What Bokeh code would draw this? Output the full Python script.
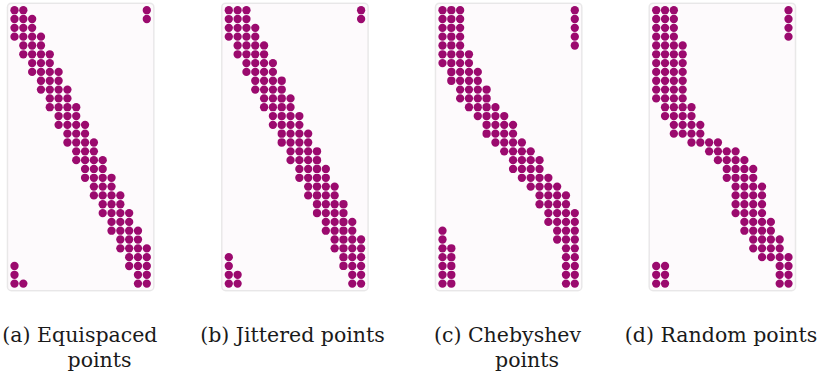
from bokeh.plotting import figure
from bokeh.models import Range1d, BoxAnnotation
from bokeh.embed import file_html
from bokeh.resources import INLINE
from bokeh.core.properties import value

# ---- data: nonzero columns of each row of the 32 x 16 sparsity patterns ----
N_ROWS = 32
N_COLS = 16

EQUISPACED = [
    [0, 1, 15], [0, 1, 2, 15], [0, 1, 2], [0, 1, 2, 3],
    [1, 2, 3], [1, 2, 3, 4], [2, 3, 4], [2, 3, 4, 5],
    [3, 4, 5], [3, 4, 5, 6], [4, 5, 6], [4, 5, 6, 7],
    [5, 6, 7], [5, 6, 7, 8], [6, 7, 8], [6, 7, 8, 9],
    [7, 8, 9], [7, 8, 9, 10], [8, 9, 10], [8, 9, 10, 11],
    [9, 10, 11], [9, 10, 11, 12], [10, 11, 12], [10, 11, 12, 13],
    [11, 12, 13], [11, 12, 13, 14], [12, 13, 14], [12, 13, 14, 15],
    [13, 14, 15], [0, 13, 14, 15], [0, 14, 15], [0, 1, 14, 15],
]

JITTERED = [
    [0, 1, 2, 15], [0, 1, 2, 15], [0, 1, 2, 3], [0, 1, 2, 3],
    [1, 2, 3, 4], [1, 2, 3, 4], [2, 3, 4, 5], [2, 3, 4, 5],
    [3, 4, 5, 6], [3, 4, 5, 6], [4, 5, 6, 7], [4, 5, 6, 7],
    [5, 6, 7, 8], [5, 6, 7, 8], [6, 7, 8, 9], [6, 7, 8, 9],
    [7, 8, 9, 10], [7, 8, 9, 10], [8, 9, 10, 11], [8, 9, 10, 11],
    [9, 10, 11, 12], [9, 10, 11, 12], [10, 11, 12, 13], [10, 11, 12, 13],
    [11, 12, 13, 14], [11, 12, 13, 14], [12, 13, 14, 15], [12, 13, 14, 15],
    [0, 13, 14, 15], [0, 13, 14, 15], [0, 1, 14, 15], [0, 1, 14, 15],
]

CHEBYSHEV = [
    [0, 1, 2, 15], [0, 1, 2, 15], [0, 1, 2, 15], [0, 1, 2, 15],
    [0, 1, 2, 15], [0, 1, 2, 3], [0, 1, 2, 3], [1, 2, 3, 4],
    [1, 2, 3, 4], [2, 3, 4, 5], [2, 3, 4, 5], [3, 4, 5, 6],
    [4, 5, 6, 7], [5, 6, 7, 8], [5, 6, 7, 8], [6, 7, 8, 9],
    [7, 8, 9, 10], [8, 9, 10, 11], [8, 9, 10, 11], [9, 10, 11, 12],
    [10, 11, 12, 13], [11, 12, 13, 14], [11, 12, 13, 14], [12, 13, 14, 15],
    [12, 13, 14, 15], [0, 13, 14, 15], [0, 13, 14, 15], [0, 1, 14, 15],
    [0, 1, 14, 15], [0, 1, 14, 15], [0, 1, 14, 15], [0, 1, 14, 15],
]

RANDOM = [
    [0, 1, 2, 15], [0, 1, 2, 15], [0, 1, 2, 15], [0, 1, 2, 15],
    [0, 1, 2, 3], [0, 1, 2, 3], [0, 1, 2, 3], [0, 1, 2, 3],
    [0, 1, 2, 3], [0, 1, 2, 3], [0, 1, 2, 3], [1, 2, 3, 4],
    [1, 2, 3, 4], [2, 3, 4, 5], [2, 3, 4, 5], [4, 5, 6, 7],
    [6, 7, 8, 9], [7, 8, 9, 10], [8, 9, 10, 11], [8, 9, 10, 11],
    [9, 10, 11, 12], [9, 10, 11, 12], [9, 10, 11, 12], [9, 10, 11, 12],
    [10, 11, 12, 13], [10, 11, 12, 13], [11, 12, 13, 14], [11, 12, 13, 14],
    [12, 13, 14, 15], [0, 1, 14, 15], [0, 1, 14, 15], [0, 1, 14, 15],
]

PATTERNS = [EQUISPACED, JITTERED, CHEBYSHEV, RANDOM]
CAPTION_LINE1 = ["(a) Equispaced", "(b) Jittered points", "(c) Chebyshev", "(d) Random points"]
CAPTION_LINE2 = ["points", "", "points", ""]

# ---- layout / style ----
W, H = 831, 372
UNIT = 8.82                      # px per matrix cell
COL0_PX = [14.0, 228.3, 442.0, 655.7]
ROW0_PX = 9.7
DOT_COLOR = "#9b0a6e"
BOX_FILL = "#fdfafc"
BOX_LINE = "#b8b8b8"
CAP1_X = [79.4, 292.0, 507.0, 720.5]
CAP2_X = [99.0, 0, 526.5, 0]
CAP1_Y = 334
CAP2_Y = 359
FONT_SIZE = "20.5px"

p = figure(width=W, height=H, output_backend="svg", toolbar_location=None,
           x_range=Range1d(0, W), y_range=Range1d(H, 0),
           x_axis_type=None, y_axis_type=None, min_border=0)
p.grid.visible = False
p.outline_line_color = None
p.background_fill_color = "white"
p.border_fill_color = "white"

p.extra_y_ranges = {"rows": Range1d((H - ROW0_PX) / UNIT, -ROW0_PX / UNIT)}
xr = {}
for k, x0 in enumerate(COL0_PX):
    xr[f"p{k}"] = Range1d(-x0 / UNIT, (W - x0) / UNIT)
p.extra_x_ranges = xr

for k, pattern in enumerate(PATTERNS):
    name = f"p{k}"
    box = BoxAnnotation(left=-0.8, right=N_COLS - 0.2, top=-0.8, bottom=N_ROWS - 0.2,
                        x_range_name=name, y_range_name="rows",
                        fill_color=BOX_FILL, fill_alpha=1.0,
                        line_color=BOX_LINE, line_width=1.5, border_radius=4,
                        level="underlay")
    p.add_layout(box)
    xs, ys = [], []
    for r, cols in enumerate(pattern):
        for c in cols:
            xs.append(c)
            ys.append(r)
    p.scatter(x=xs, y=ys, size=8.3, fill_color=DOT_COLOR, line_color=None,
              x_range_name=name, y_range_name="rows")

font = value("DejaVu Serif")
p.text(x=CAP1_X, y=[CAP1_Y] * 4, text=CAPTION_LINE1, text_font=font,
       text_font_size=FONT_SIZE, text_align="center", text_baseline="alphabetic",
       text_color="#1a1a1a")
l2x = [x for x, t in zip(CAP2_X, CAPTION_LINE2) if t]
l2t = [t for t in CAPTION_LINE2 if t]
p.text(x=l2x, y=[CAP2_Y] * len(l2x), text=l2t, text_font=font,
       text_font_size=FONT_SIZE, text_align="center", text_baseline="alphabetic",
       text_color="#1a1a1a")

open("out.html", "w").write(file_html(p, INLINE))
